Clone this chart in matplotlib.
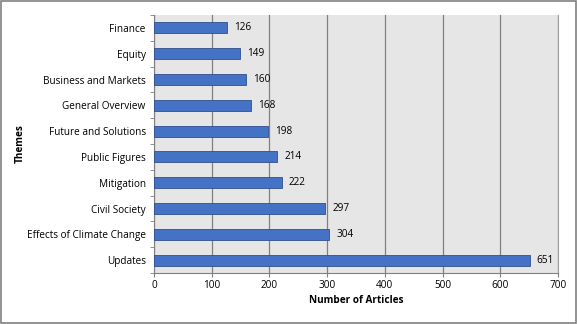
import matplotlib
matplotlib.use("Agg")
import matplotlib.pyplot as plt
from matplotlib.patches import Rectangle
import numpy as np

categories = ["Updates", "Effects of Climate Change", "Civil Society", "Mitigation",
              "Public Figures", "Future and Solutions", "General Overview",
              "Business and Markets", "Equity", "Finance"]
values = [651, 304, 297, 222, 214, 198, 168, 160, 149, 126]
xticks = [0, 100, 200, 300, 400, 500, 600, 700]

plt.rcParams['font.family'] = ['Open Sans', 'DejaVu Sans']

fig = plt.figure(figsize=(5.77, 3.24), dpi=100)
fig.patches.append(Rectangle((0.001, 0.002), 0.997, 0.995, transform=fig.transFigure,
                             fill=False, edgecolor="#808080", linewidth=1.2))
ax = fig.add_axes([0.2669, 0.1574, 0.7001, 0.7963])
ax.set_facecolor("#E6E6E6")

y = np.arange(len(categories))
ax.barh(y, values, height=0.42, color="#4472C4", edgecolor="#2F4F8F", linewidth=0.6, zorder=3)
for yi, v in zip(y, values):
    ax.text(v + 12, yi, str(v), va="center", ha="left", fontsize=7.2, color="black", zorder=4)

ax.set_xlim(0, 700)
ax.set_ylim(-0.5, len(categories) - 0.5)
ax.set_xticks(xticks)
ax.set_xticklabels([str(t) for t in xticks], fontsize=7.2)
ax.set_yticks(y)
ax.set_yticklabels(categories, fontsize=7.2)
ax.set_yticks(np.arange(-0.5, len(categories), 1.0), minor=True)
ax.tick_params(axis="y", which="major", length=0, pad=6)
ax.tick_params(axis="y", which="minor", length=3, color="#808080", direction="out")
ax.tick_params(axis="x", which="major", length=3, color="#808080", direction="out", pad=2)
ax.xaxis.grid(True, color="#808080", linewidth=0.9, zorder=1)
ax.set_axisbelow(True)
ax.spines["top"].set_visible(False)
ax.spines["right"].set_color("#A0A0A0")
ax.spines["left"].set_color("#808080")
ax.spines["bottom"].set_color("#808080")

ax.set_xlabel("Number of Articles", fontsize=7.2, fontweight="bold", labelpad=3)
ax.set_ylabel("Themes", fontsize=7.2, fontweight="bold")
ax.yaxis.set_label_coords(-0.318, 0.5)

fig.savefig("out.png", dpi=100)
